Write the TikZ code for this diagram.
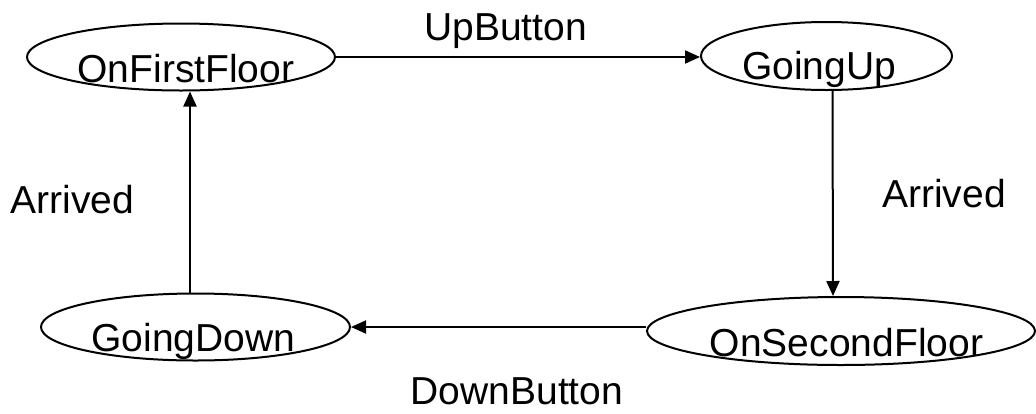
\documentclass[tikz,border=0pt]{standalone}
\usepackage{fontspec}
\setmainfont{Liberation Sans}
\usetikzlibrary{shapes.geometric,arrows.meta}
\begin{document}
\begin{tikzpicture}[x=1pt,y=-1pt,
  state/.style={ellipse,draw,line width=2pt,inner sep=0pt},
  lbl/.style={anchor=base,inner sep=0pt,font=\fontsize{39}{47}\selectfont},
  arr/.style={line width=2pt,-{Triangle[length=15pt,width=13pt]}}]
\useasboundingbox (0,0) rectangle (1036,413);
\node[state,minimum width=308pt,minimum height=67pt] (ofirst) at (181,57) {};
\node[state,minimum width=251pt,minimum height=68pt] (gup) at (826.5,56) {};
\node[state,minimum width=388pt,minimum height=68pt] (osec) at (841,331) {};
\node[state,minimum width=309pt,minimum height=67pt] (gdown) at (195.5,327) {};
\node[lbl] (tfirst) at (186,82) {OnFirstFloor};
\node[lbl] (tup) at (819,79.5) {GoingUp};
\node[lbl] (tsec) at (846.5,356) {OnSecondFloor};
\node[lbl] (tdown) at (193.5,351) {GoingDown};
\node[lbl] (lup) at (505.5,40) {UpButton};
\node[lbl] (larr1) at (72.5,213) {Arrived};
\node[lbl] (larr2) at (944,207) {Arrived};
\node[lbl,text depth=0pt] (ldown) at (517,404.5) {DownButton};
\draw[arr] (ofirst.east) -- (gup.west |- ofirst.east);
\draw[arr] ([xshift=6pt]gup.south) -- ([xshift=-8pt]osec.north);
\draw[arr] (osec.west |- gdown.east) -- (gdown.east);
\draw[arr] ([xshift=-5.5pt]gdown.north) -- ([xshift=9pt]ofirst.south);
\end{tikzpicture}
\end{document}
